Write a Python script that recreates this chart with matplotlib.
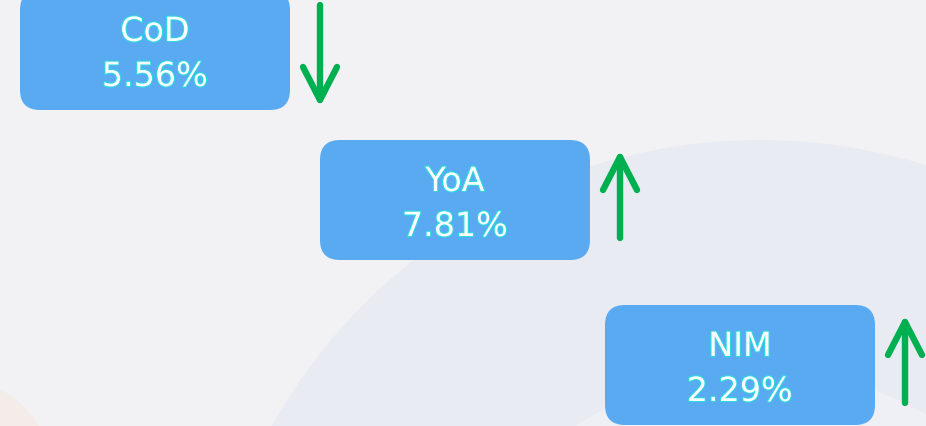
import matplotlib.pyplot as plt
import matplotlib.patheffects as pe
from matplotlib.patches import FancyBboxPatch, Circle, Wedge

# -------- Data --------
metrics = ['CoD', 'YoA', 'NIM']
values = [5.56, 7.81, 2.29]
trend = ['down', 'up', 'up']

# -------- Layout (pixels) --------
W, H = 926, 426
box_left = [20, 320, 605]
box_top = [-10, 140, 305]
box_w, box_h = 270, 120
arrow_gap = 30           # arrow x offset from box right edge
box_color = '#5AAAF2'
arrow_color = '#00B050'
bg_color = '#F2F2F5'

fig = plt.figure(figsize=(W / 100, H / 100), dpi=100)
ax = fig.add_axes([0, 0, 1, 1])
ax.set_xlim(0, W)
ax.set_ylim(H, 0)
ax.axis('off')
fig.patch.set_facecolor(bg_color)

# faint background swirl
ax.add_patch(Wedge((760, 700), 560, 180, 360, width=230, facecolor='#E6EAF2',
                   edgecolor='none', alpha=0.8, zorder=0))
ax.add_patch(Circle((760, 700), 330, facecolor='#EEF0F5', edgecolor='none', zorder=0))
ax.add_patch(Wedge((-40, 470), 90, 270, 90, facecolor='#F6E8E2', edgecolor='none',
                   alpha=0.6, zorder=0))

outline = [pe.withStroke(linewidth=1.6, foreground='#2ED8E0')]

for i, name in enumerate(metrics):
    x0, y0 = box_left[i], box_top[i]
    ax.add_patch(FancyBboxPatch((x0 + 20, y0 + 20), box_w - 40, box_h - 40,
                                boxstyle='round,pad=20', facecolor=box_color,
                                edgecolor='none', zorder=2))
    cx = x0 + box_w / 2
    ax.text(cx, y0 + 51, name, ha='center', va='baseline', fontsize=24,
            color='white', path_effects=outline, zorder=3)
    ax.text(cx, y0 + 96, f'{values[i]:.2f}%', ha='center', va='baseline', fontsize=24,
            color='white', path_effects=outline, zorder=3)

    # trend arrow next to the box
    ax_x = x0 + box_w + arrow_gap
    if trend[i] == 'up':
        tip, tail, arm = y0 + 17, y0 + 98, 33
    else:
        tip, tail, arm = y0 + 110, y0 + 15, -33
    kw = dict(color=arrow_color, linewidth=4.6, solid_capstyle='round',
              solid_joinstyle='round', zorder=3)
    ax.plot([ax_x, ax_x], [tail, tip], **kw)
    ax.plot([ax_x - 17, ax_x, ax_x + 17], [tip + arm, tip, tip + arm], **kw)

plt.savefig('out.png', dpi=100, facecolor=bg_color)
